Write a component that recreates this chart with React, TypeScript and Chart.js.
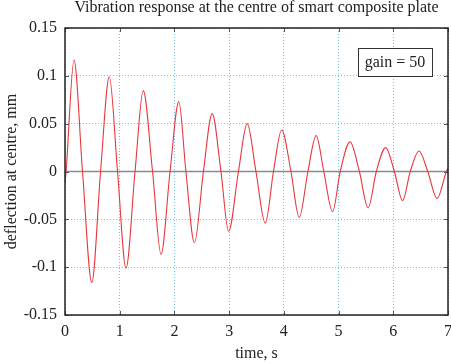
import React, { useEffect, useRef } from 'react';
import { Chart, registerables } from 'chart.js';

Chart.register(...registerables);

const timeS = [
  0, 0.02, 0.165, 0.32, 0.49, 0.65, 0.81, 0.96, 1.115, 1.28, 1.43, 1.6, 1.755, 1.92,
  2.08, 2.21, 2.365, 2.53, 2.69, 2.85, 2.99, 3.17, 3.33, 3.49, 3.66, 3.81, 3.96, 4.13,
  4.28, 4.44, 4.59, 4.73, 4.89, 5.03, 5.21, 5.38, 5.54, 5.69, 5.86, 6.02, 6.17, 6.31,
  6.47, 6.63, 6.8, 6.97, 7.0,
];
const deflectionMm = [
  -0.012, 0, 0.1165, 0, -0.116, 0, 0.099, 0, -0.101, 0, 0.0845, 0, -0.0866, 0,
  0.073, 0, -0.0744, 0, 0.0605, 0, -0.0625, 0, 0.05, 0, -0.054, 0, 0.0434, 0,
  -0.048, 0, 0.0375, 0, -0.042, 0, 0.031, 0, -0.038, 0, 0.025, 0, -0.0305, 0,
  0.0214, 0, -0.028, 0, 0.004,
];
const xTickValues = [0, 1, 2, 3, 4, 5, 6, 7];
const xTickLabels = ['0', '1', '2', '3', '4', '5', '6', '7'];
const yTickValues = [-0.15, -0.1, -0.05, 0, 0.05, 0.1, 0.15];
const yTickLabels = ['-0.15', '-0.1', '-0.05', '0', '0.05', '0.1', '0.15'];
const chartTitle = 'Vibration response at the centre of smart composite plate';
const xAxisTitle = 'time, s';
const yAxisTitle = 'deflection at centre, mm';
const legendLabel = 'gain = 50';

const FONT = "'Liberation Serif', 'Times New Roman', serif";
const TEXT = '#222222';

const decorPlugin = {
  id: 'decor',
  beforeDatasetsDraw(chart: any) {
    const { ctx, chartArea, scales } = chart;
    const y0 = scales.y.getPixelForValue(0);
    ctx.save();
    ctx.strokeStyle = '#8a8a8a';
    ctx.lineWidth = 1.5;
    ctx.beginPath();
    ctx.moveTo(chartArea.left, y0);
    ctx.lineTo(chartArea.right, y0);
    ctx.stroke();
    ctx.restore();
  },
  afterDraw(chart: any) {
    const { ctx, chartArea, scales } = chart;
    const { left, right, top, bottom } = chartArea;
    ctx.save();
    ctx.strokeStyle = '#4a5a6a';
    ctx.lineWidth = 1;
    const tl = 4;
    xTickValues.forEach((v) => {
      const x = Math.round(scales.x.getPixelForValue(v)) + 0.5;
      ctx.beginPath();
      ctx.moveTo(x, bottom);
      ctx.lineTo(x, bottom - tl);
      ctx.moveTo(x, top);
      ctx.lineTo(x, top + tl);
      ctx.stroke();
    });
    yTickValues.forEach((v) => {
      const y = Math.round(scales.y.getPixelForValue(v)) + 0.5;
      ctx.beginPath();
      ctx.moveTo(left, y);
      ctx.lineTo(left + tl, y);
      ctx.moveTo(right, y);
      ctx.lineTo(right - tl, y);
      ctx.stroke();
    });
    ctx.strokeStyle = '#222222';
    ctx.lineWidth = 1.5;
    ctx.strokeRect(left, top, right - left, bottom - top);
    const bw = 74;
    const bh = 28;
    const bx = right - 90;
    const by = top + 20;
    ctx.fillStyle = '#ffffff';
    ctx.fillRect(bx, by, bw, bh);
    ctx.strokeStyle = '#333333';
    ctx.lineWidth = 1;
    ctx.strokeRect(bx + 0.5, by + 0.5, bw, bh);
    ctx.fillStyle = TEXT;
    ctx.font = `16px ${FONT}`;
    ctx.textAlign = 'center';
    ctx.textBaseline = 'middle';
    ctx.fillText(legendLabel, bx + bw / 2, by + bh / 2 + 1);
    ctx.restore();
  },
};

export default function App() {
  const canvasRef = useRef<HTMLCanvasElement | null>(null);

  useEffect(() => {
    document.body.style.margin = '0';
    const canvas = canvasRef.current;
    if (!canvas) return;
    const points = timeS.map((t, i) => ({ x: t, y: deflectionMm[i] }));
    const chart = new Chart(canvas, {
      type: 'line',
      data: {
        datasets: [
          {
            data: points,
            borderColor: '#e8363c',
            borderWidth: 1.1,
            pointRadius: 0,
            fill: false,
            cubicInterpolationMode: 'monotone',
          },
        ],
      },
      options: {
        animation: false,
        responsive: false,
        devicePixelRatio: 1,
        layout: { padding: { right: 3, top: 0, bottom: 0, left: 0 } },
        plugins: {
          legend: { display: false },
          tooltip: { enabled: false },
          title: {
            display: true,
            fullSize: false,
            text: chartTitle,
            color: TEXT,
            font: { family: FONT, size: 16, weight: 'normal', lineHeight: 1 },
            padding: { top: 0, bottom: 12 },
          },
        },
        scales: {
          x: {
            type: 'linear',
            min: 0,
            max: 7,
            afterBuildTicks: (scale: any) => {
              scale.ticks = xTickValues.map((v) => ({ value: v }));
            },
            afterFit: (scale: any) => {
              scale.height = 49;
              scale.paddingLeft = 0;
              scale.paddingRight = 0;
            },
            ticks: {
              callback: (v: any) => xTickLabels[xTickValues.indexOf(Number(v))] ?? '',
              color: TEXT,
              font: { family: FONT, size: 16 },
              padding: 7,
              maxRotation: 0,
            },
            grid: {
              color: '#6fc3ea',
              lineWidth: 1,
              drawTicks: false,
            },
            border: { display: false, dash: [1, 2] },
            title: {
              display: true,
              text: xAxisTitle,
              color: TEXT,
              font: { family: FONT, size: 16 },
              padding: { top: 0, bottom: 1 },
            },
          },
          y: {
            type: 'linear',
            min: -0.15,
            max: 0.15,
            afterBuildTicks: (scale: any) => {
              scale.ticks = yTickValues.map((v) => ({ value: v }));
            },
            afterFit: (scale: any) => {
              scale.width = 65;
            },
            ticks: {
              callback: (v: any) => {
                const i = yTickValues.findIndex((t) => Math.abs(t - Number(v)) < 1e-9);
                return i >= 0 ? yTickLabels[i] : '';
              },
              color: TEXT,
              font: { family: FONT, size: 16 },
              padding: 8,
            },
            grid: {
              color: '#6fc3ea',
              lineWidth: 1,
              drawTicks: false,
            },
            border: { display: false, dash: [1, 2] },
            title: {
              display: true,
              text: yAxisTitle,
              color: TEXT,
              font: { family: FONT, size: 16 },
              padding: { top: 2, bottom: 0 },
            },
          },
        },
      },
      plugins: [decorPlugin],
    } as any);
    return () => {
      chart.destroy();
    };
  }, []);

  return (
    <div style={{ width: 451, height: 364 }}>
      <canvas ref={canvasRef} width={451} height={364} style={{ display: 'block' }} />
    </div>
  );
}
